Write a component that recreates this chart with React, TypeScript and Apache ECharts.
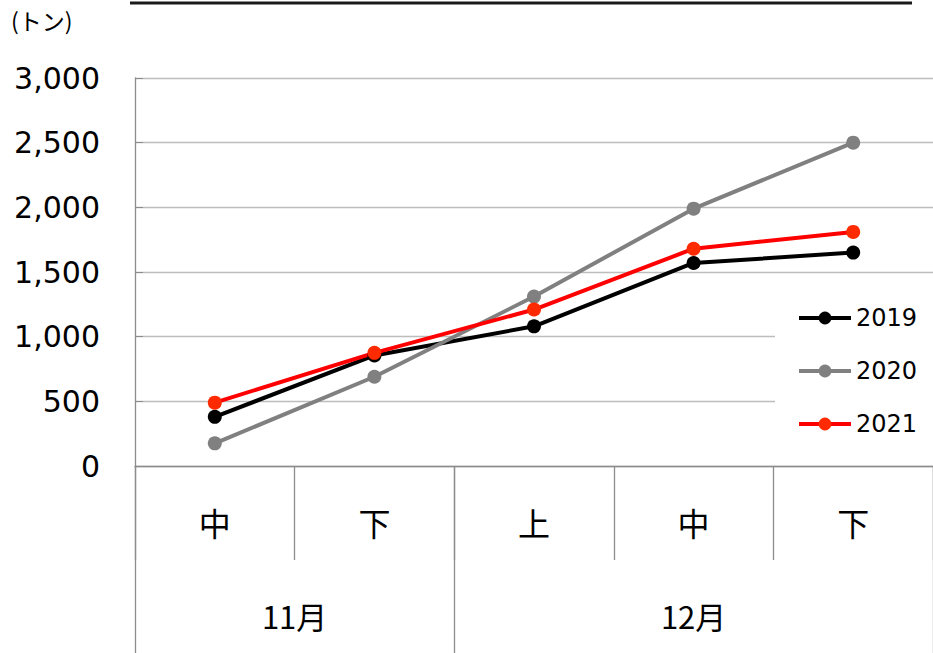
import React, { useEffect, useRef } from "react";
import * as echarts from "echarts";

// 旬 (ten-day period) labels along the lower axis
const periods = ["中", "下", "上", "中", "下"];
// month groups and how many periods each spans
const months = ["11月", "12月"];
const monthSpans = [2, 3];
const seriesNames = ["2019", "2020", "2021"];
const values2019 = [380, 855, 1080, 1570, 1650];
const values2020 = [175, 690, 1310, 1990, 2500];
const values2021 = [490, 875, 1210, 1680, 1810];
const yTicks = [0, 500, 1000, 1500, 2000, 2500, 3000];

const AXIS_GRAY = "#8c8c8c";
const GRID_GRAY = "#bdbdbd";
const NUM_FONT = "'DejaVu Sans', sans-serif";
const JP_FONT = "'Noto Sans CJK JP', sans-serif";

export default function App() {
  const ref = useRef<HTMLDivElement>(null);

  useEffect(() => {
    document.body.style.margin = "0";
    document.body.style.overflow = "hidden";
    if (!ref.current) return;
    const chart = echarts.init(ref.current, null, { renderer: "svg" });

    // month row: half-period slots so labels can sit at the middle of each group
    const slotCount = periods.length * 2 + 1;
    const monthSlots: string[] = new Array(slotCount).fill("");
    const monthLabelIdx = new Set<number>();
    const monthTickIdx = new Set<number>([periods.length * 2]);
    let start = 0;
    months.forEach((m, i) => {
      const centre = 2 * start + monthSpans[i];
      monthSlots[centre] = m;
      monthLabelIdx.add(centre);
      monthTickIdx.add(2 * start);
      start += monthSpans[i];
    });

    const mkSeries = (name: string, data: number[], line: string, dot: string) => ({
      name,
      type: "line",
      data,
      xAxisIndex: 0,
      symbol: "circle",
      symbolSize: 14,
      lineStyle: { color: line, width: 4 },
      itemStyle: { color: dot },
      color: line,
    });

    chart.setOption({
      animation: false,
      backgroundColor: "#fff",
      grid: { left: 135, top: 78, width: 805, height: 388, containLabel: false },
      legend: {
        data: seriesNames,
        orient: "vertical",
        left: 775,
        top: 291,
        padding: [12, 20, 12, 22],
        backgroundColor: "#fff",
        itemWidth: 52,
        itemHeight: 16,
        itemGap: 23,
        lineStyle: { width: 4 },
        textStyle: { fontSize: 24, lineHeight: 30, color: "#000", fontFamily: NUM_FONT },
      },
      xAxis: [
        {
          type: "category",
          data: periods,
          position: "bottom",
          boundaryGap: true,
          axisLine: { show: true, lineStyle: { color: AXIS_GRAY, width: 1.3 } },
          axisTick: { show: true, length: 94, lineStyle: { color: AXIS_GRAY, width: 1.3 } },
          axisLabel: { margin: 40, fontSize: 32, color: "#000", fontFamily: JP_FONT },
          splitLine: { show: false },
        },
        {
          type: "category",
          data: monthSlots,
          position: "bottom",
          offset: 0,
          boundaryGap: false,
          axisLine: { show: false },
          axisTick: {
            show: true,
            length: 200,
            interval: (i: number) => monthTickIdx.has(i),
            lineStyle: { color: AXIS_GRAY, width: 1.3 },
          },
          axisLabel: {
            margin: 134,
            fontSize: 31,
            color: "#000",
            fontFamily: JP_FONT,
            interval: (i: number) => monthLabelIdx.has(i),
          },
          splitLine: { show: false },
        },
      ],
      yAxis: {
        type: "value",
        min: yTicks[0],
        max: yTicks[yTicks.length - 1],
        interval: yTicks[1] - yTicks[0],
        axisLine: { show: true, lineStyle: { color: AXIS_GRAY, width: 1.3 } },
        axisTick: { show: true, inside: true, length: 8, lineStyle: { color: AXIS_GRAY } },
        axisLabel: {
          margin: 35,
          fontSize: 30,
          color: "#000",
          fontFamily: NUM_FONT,
          formatter: (v: number) => v.toLocaleString("en-US"),
        },
        splitLine: { show: true, lineStyle: { color: GRID_GRAY, width: 1.3 } },
      },
      graphic: [
        {
          type: "text",
          left: 11,
          top: 7,
          style: {
            text: "(トン)",
            fontSize: 23,
            lineHeight: 26,
            fill: "#000",
            fontFamily: JP_FONT,
          },
        },
        {
          type: "line",
          shape: { x1: 130, y1: 3, x2: 912, y2: 3 },
          style: { stroke: "#1a1a1a", lineWidth: 3 },
        },
      ],
      series: [
        mkSeries(seriesNames[0], values2019, "#000000", "#000000"),
        mkSeries(seriesNames[1], values2020, "#808080", "#808080"),
        mkSeries(seriesNames[2], values2021, "#ff0000", "#ff2a00"),
      ],
    });

    return () => chart.dispose();
  }, []);

  return (
    <div
      ref={ref}
      style={{ position: "absolute", left: 0, top: 0, width: 933, height: 653, overflow: "hidden" }}
    />
  );
}
